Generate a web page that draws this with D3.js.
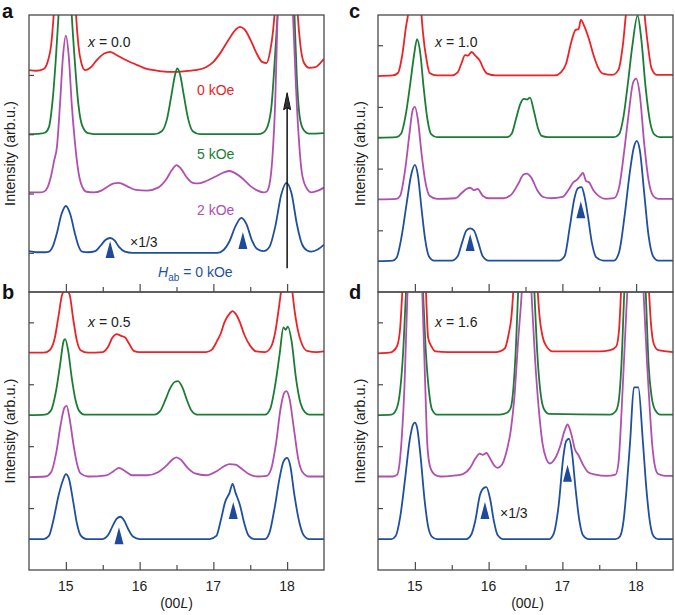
<!DOCTYPE html>
<html><head><meta charset="utf-8">
<script src="https://cdn.jsdelivr.net/npm/d3@7"></script>
<style>body{margin:0;background:#fff}svg{display:block}text{font-family:"Liberation Sans",Arial,Helvetica,sans-serif}</style>
</head><body><svg id="chart" width="675" height="615"></svg>
<script>
// ---------- data ----------
const xDomain = [14.5, 18.5];
const xMajorTicks = [15, 16, 17, 18];
const xMinorTicks = [15.5, 16.5, 17.5];
const xTickLabels = ["15", "16", "17", "18"];
const panelLabels = ["a", "b", "c", "d"];
const compositions = ["0.0", "0.5", "1.0", "1.6"];
const fieldLabels = ["0 kOe", "5 kOe", "2 kOe", "0 kOe"];
const seriesColors = ["#ec2227", "#1b7d35", "#b04fb0", "#1f4fa0"];
const yMaxA = 4.67, yMaxOther = 4.49;
const offsetsA = [3.66, 2.66, 1.66, 0.66];
const offsetsOther = [3.5, 2.5, 1.5, 0.5];
const yTicksA = [0.66, 1.66, 2.66, 3.66];
const yTicksOther = [1, 2, 3, 4];

const aRed = [[14.5,0.08],[14.6,0.07],[14.7,0.1],[14.76,0.25],[14.8,0.5],[14.84,1.1],[14.9,2.4],[14.95,3.5],[15,4],[15.05,3.5],[15.1,2.2],[15.13,1.2],[15.17,0.5],[15.21,0.2],[15.26,0.08],[15.33,0.12],[15.42,0.25],[15.52,0.36],[15.6,0.39],[15.68,0.34],[15.8,0.26],[15.9,0.2],[16,0.15],[16.1,0.1],[16.2,0.08],[16.3,0.06],[16.45,0.05],[16.6,0.06],[16.75,0.08],[16.9,0.13],[17,0.22],[17.1,0.38],[17.2,0.58],[17.3,0.76],[17.36,0.81],[17.42,0.77],[17.5,0.6],[17.58,0.38],[17.66,0.22],[17.72,0.2],[17.77,0.4],[17.81,0.75],[17.84,1.2],[17.9,2.4],[17.95,3.5],[18,4],[18.05,3.5],[18.1,2.3],[18.14,1.1],[18.18,0.5],[18.23,0.2],[18.3,0.12],[18.38,0.13],[18.45,0.2],[18.5,0.27]];
const aGreen = [[14.5,0],[14.65,0.01],[14.72,0.03],[14.77,0.12],[14.82,0.57],[14.86,1.2],[14.9,2],[14.96,3.2],[15,3.5],[15.04,3],[15.08,2],[15.12,1.25],[15.17,0.5],[15.22,0.15],[15.3,0.02],[15.45,0],[16.2,0],[16.3,0.05],[16.37,0.25],[16.43,0.65],[16.48,1],[16.51,1.11],[16.55,1],[16.6,0.65],[16.66,0.25],[16.72,0.05],[16.82,0],[17.6,0],[17.68,0.03],[17.74,0.15],[17.79,0.5],[17.83,1.2],[17.87,2],[17.93,3.5],[18,4],[18.05,3.5],[18.1,2],[18.13,1],[18.17,0.3],[18.22,0.08],[18.3,0.01],[18.5,0.02]];
const aMagenta = [[14.5,0.02],[14.65,0.02],[14.7,0.03],[14.75,0.1],[14.8,0.3],[14.84,0.55],[14.88,0.8],[14.92,1.5],[14.96,2.3],[15,2.66],[15.04,2.3],[15.08,1.5],[15.12,0.9],[15.16,0.45],[15.21,0.15],[15.28,0.03],[15.38,0.02],[15.48,0.05],[15.57,0.12],[15.65,0.17],[15.72,0.18],[15.82,0.13],[15.95,0.06],[16.1,0.05],[16.25,0.1],[16.35,0.22],[16.44,0.4],[16.5,0.48],[16.56,0.42],[16.64,0.27],[16.72,0.18],[16.8,0.17],[16.92,0.22],[17.05,0.3],[17.15,0.36],[17.22,0.38],[17.3,0.34],[17.4,0.25],[17.5,0.13],[17.6,0.05],[17.68,0.02],[17.72,0.03],[17.76,0.15],[17.8,0.6],[17.84,1.6],[17.87,3],[17.93,4.5],[18,5],[18.04,4.5],[18.08,3],[18.12,1.8],[18.16,0.9],[18.2,0.35],[18.26,0.1],[18.33,0.02],[18.42,0.05],[18.5,0.1]];
const aBlue = [[14.5,0.03],[14.6,0.01],[14.72,0.01],[14.77,0.02],[14.83,0.13],[14.88,0.34],[14.94,0.65],[15,0.79],[15.06,0.65],[15.12,0.34],[15.17,0.12],[15.22,0.02],[15.3,0.01],[15.4,0.03],[15.47,0.12],[15.54,0.22],[15.6,0.25],[15.66,0.21],[15.72,0.1],[15.8,0.02],[15.9,0],[17.05,0],[17.13,0.04],[17.22,0.2],[17.3,0.45],[17.38,0.59],[17.45,0.48],[17.52,0.22],[17.6,0.06],[17.68,0.03],[17.76,0.1],[17.84,0.45],[17.92,0.98],[17.99,1.18],[18.06,1],[18.13,0.5],[18.2,0.15],[18.27,0.04],[18.33,0.02],[18.42,0.06],[18.5,0.14]];

const bRed = [[14.5,0.01],[14.7,0.01],[14.78,0.05],[14.85,0.25],[14.9,0.6],[14.95,0.95],[15,1.03],[15.05,0.95],[15.1,0.55],[15.15,0.2],[15.2,0.05],[15.3,0.01],[15.5,0.02],[15.57,0.1],[15.63,0.25],[15.69,0.31],[15.75,0.28],[15.8,0.26],[15.86,0.15],[15.92,0.04],[16,0.02],[16.9,0.02],[16.98,0.06],[17.05,0.2],[17.1,0.32],[17.15,0.5],[17.22,0.64],[17.26,0.68],[17.3,0.64],[17.36,0.5],[17.42,0.3],[17.5,0.12],[17.58,0.03],[17.7,0.02],[17.78,0.1],[17.84,0.35],[17.89,0.75],[17.93,1.1],[18,1.4],[18.06,1.1],[18.1,0.7],[18.15,0.35],[18.2,0.15],[18.27,0.04],[18.4,0.02],[18.5,0.03]];
const bGreen = [[14.5,0],[14.72,0.01],[14.8,0.08],[14.86,0.35],[14.92,0.8],[14.97,1.2],[14.99,1.23],[15.03,1.05],[15.08,0.6],[15.13,0.25],[15.18,0.07],[15.25,0.01],[16.2,0.01],[16.28,0.07],[16.35,0.25],[16.42,0.45],[16.48,0.54],[16.52,0.55],[16.58,0.45],[16.64,0.25],[16.7,0.08],[16.78,0.01],[17.7,0.01],[17.77,0.1],[17.84,0.5],[17.9,1],[17.95,1.42],[17.98,1.38],[18.01,1.43],[18.06,1.2],[18.12,0.6],[18.18,0.2],[18.24,0.05],[18.3,0.01],[18.5,0.01]];
const bMagenta = [[14.5,0],[14.72,0.01],[14.8,0.08],[14.87,0.4],[14.93,0.85],[14.98,1.12],[15.01,1.15],[15.05,0.95],[15.1,0.55],[15.15,0.22],[15.2,0.06],[15.3,0.01],[15.55,0.03],[15.65,0.1],[15.72,0.15],[15.8,0.1],[15.9,0.03],[16.1,0.03],[16.25,0.08],[16.35,0.17],[16.45,0.29],[16.5,0.32],[16.56,0.28],[16.65,0.15],[16.75,0.06],[16.9,0.03],[17.05,0.1],[17.15,0.18],[17.22,0.21],[17.3,0.2],[17.38,0.14],[17.48,0.05],[17.6,0.01],[17.72,0.02],[17.78,0.12],[17.85,0.55],[17.91,1.1],[17.96,1.36],[17.99,1.39],[18.03,1.28],[18.09,0.8],[18.15,0.3],[18.21,0.08],[18.3,0.01],[18.5,0.01]];
const bBlue = [[14.5,0],[14.7,0],[14.77,0.05],[14.83,0.3],[14.9,0.7],[14.96,0.95],[15,1.05],[15.04,0.98],[15.1,0.6],[15.15,0.25],[15.2,0.06],[15.28,0],[15.5,0],[15.57,0.06],[15.63,0.2],[15.69,0.33],[15.74,0.36],[15.79,0.3],[15.85,0.15],[15.91,0.04],[16,0],[16.95,0],[17.04,0.05],[17.1,0.3],[17.16,0.6],[17.22,0.75],[17.26,0.89],[17.3,0.75],[17.36,0.55],[17.42,0.25],[17.48,0.05],[17.55,0],[17.7,0],[17.76,0.1],[17.83,0.5],[17.9,1],[17.95,1.25],[18,1.31],[18.04,1.2],[18.1,0.7],[18.16,0.3],[18.22,0.07],[18.3,0],[18.5,0]];

const cRed = [[14.5,0],[14.7,0.01],[14.77,0.05],[14.83,0.35],[14.88,0.8],[14.92,1.1],[14.97,1.8],[15.02,2],[15.07,1.3],[15.11,0.7],[15.16,0.25],[15.2,0.05],[15.3,0.01],[15.5,0.01],[15.58,0.06],[15.63,0.2],[15.68,0.34],[15.72,0.33],[15.77,0.39],[15.82,0.33],[15.88,0.25],[15.93,0.12],[15.98,0.04],[16.1,0.01],[16.9,0.01],[16.98,0.06],[17.05,0.2],[17.12,0.55],[17.18,0.75],[17.22,0.76],[17.25,0.91],[17.3,0.8],[17.36,0.6],[17.42,0.35],[17.48,0.15],[17.55,0.04],[17.68,0.02],[17.76,0.1],[17.82,0.5],[17.87,1.1],[17.93,1.6],[18,2],[18.07,1.6],[18.11,1.05],[18.16,0.5],[18.21,0.12],[18.28,0.02],[18.5,0.02]];
const cGreen = [[14.5,0],[14.75,0.01],[14.81,0.06],[14.88,0.4],[14.94,0.9],[14.99,1.35],[15.03,1.6],[15.07,1.4],[15.12,0.8],[15.17,0.3],[15.22,0.06],[15.3,0.01],[16.25,0.01],[16.31,0.06],[16.37,0.3],[16.43,0.55],[16.48,0.63],[16.52,0.62],[16.56,0.65],[16.62,0.4],[16.67,0.15],[16.72,0.03],[16.8,0.01],[17.7,0.01],[17.77,0.06],[17.83,0.35],[17.89,0.9],[17.95,1.5],[18.02,1.98],[18.07,1.6],[18.13,0.8],[18.19,0.25],[18.25,0.05],[18.32,0.01],[18.5,0.01]];
const cMagenta = [[14.5,0],[14.75,0.01],[14.8,0.06],[14.87,0.5],[14.93,1.1],[14.97,1.45],[15,1.5],[15.04,1.3],[15.09,0.75],[15.14,0.3],[15.2,0.06],[15.3,0.01],[15.55,0.02],[15.63,0.1],[15.7,0.17],[15.75,0.19],[15.8,0.15],[15.85,0.17],[15.92,0.06],[16,0.02],[16.2,0.02],[16.3,0.07],[16.4,0.25],[16.47,0.4],[16.52,0.42],[16.58,0.35],[16.66,0.15],[16.74,0.04],[16.85,0.02],[17,0.04],[17.08,0.15],[17.15,0.28],[17.2,0.32],[17.24,0.38],[17.28,0.43],[17.32,0.3],[17.36,0.28],[17.42,0.15],[17.5,0.05],[17.58,0.01],[17.7,0.02],[17.77,0.2],[17.84,0.8],[17.9,1.4],[17.96,1.9],[18,1.96],[18.05,1.7],[18.11,0.9],[18.17,0.3],[18.23,0.06],[18.3,0.01],[18.5,0.01]];
const cBlue = [[14.5,0],[14.7,0.01],[14.75,0.05],[14.82,0.4],[14.89,0.95],[14.95,1.4],[15,1.56],[15.04,1.4],[15.09,0.85],[15.14,0.35],[15.19,0.08],[15.26,0.01],[15.5,0.01],[15.58,0.08],[15.64,0.3],[15.7,0.5],[15.75,0.53],[15.8,0.5],[15.86,0.3],[15.92,0.08],[16,0.01],[16.95,0.01],[17.03,0.08],[17.1,0.55],[17.16,1],[17.21,1.18],[17.26,1.2],[17.3,1.05],[17.35,0.7],[17.4,0.3],[17.46,0.06],[17.55,0.01],[17.7,0.01],[17.77,0.15],[17.84,0.7],[17.91,1.4],[17.97,1.85],[18.01,1.95],[18.05,1.8],[18.11,1.1],[18.17,0.4],[18.23,0.08],[18.3,0.01],[18.5,0.01]];

const dRed = [[14.5,0],[14.65,0.01],[14.7,0.03],[14.76,0.12],[14.8,0.4],[14.83,1],[14.9,2.5],[15,4],[15.1,2.5],[15.15,1],[15.18,0.25],[15.23,0.1],[15.28,0.03],[15.45,0.02],[16.1,0.02],[16.15,0.03],[16.22,0.08],[16.27,0.3],[16.31,0.6],[16.34,1.1],[16.42,2.5],[16.5,4],[16.58,2.5],[16.66,1.1],[16.69,0.6],[16.73,0.28],[16.78,0.12],[16.87,0.03],[17,0.03],[17.2,0.03],[17.5,0.03],[17.65,0.05],[17.73,0.11],[17.77,0.4],[17.8,1.1],[17.88,2.5],[18,4],[18.1,2.5],[18.17,1.1],[18.2,0.5],[18.24,0.15],[18.3,0.05],[18.5,0.02]];
const dGreen = [[14.5,0],[14.68,0.01],[14.75,0.1],[14.8,0.4],[14.84,1],[14.88,2],[14.95,3.5],[15,4],[15.05,3.5],[15.11,2],[15.15,1],[15.19,0.4],[15.23,0.1],[15.3,0.01],[16.15,0.01],[16.25,0.04],[16.3,0.12],[16.34,0.5],[16.37,1.1],[16.4,2],[16.45,3.5],[16.5,4],[16.56,3.5],[16.62,2],[16.66,1],[16.7,0.4],[16.75,0.1],[16.82,0.02],[17.65,0.01],[17.72,0.06],[17.76,0.2],[17.8,0.8],[17.84,2],[17.92,3.5],[18,4],[18.07,3.5],[18.13,2],[18.17,0.8],[18.21,0.3],[18.26,0.08],[18.33,0.01],[18.5,0.01]];
const dMagenta = [[14.5,0.01],[14.7,0.01],[14.76,0.04],[14.79,0.2],[14.82,0.6],[14.86,1.5],[14.9,3],[15,5],[15.1,3],[15.14,1.5],[15.17,0.5],[15.21,0.15],[15.27,0.04],[15.35,0.01],[15.5,0.02],[15.65,0.05],[15.75,0.15],[15.82,0.3],[15.88,0.38],[15.92,0.36],[15.97,0.39],[16.02,0.3],[16.08,0.18],[16.12,0.15],[16.18,0.2],[16.25,0.45],[16.3,0.75],[16.35,1.3],[16.4,2.2],[16.45,3],[16.51,4.5],[16.58,3],[16.63,1.9],[16.68,1.1],[16.73,0.55],[16.78,0.3],[16.83,0.22],[16.9,0.3],[16.97,0.5],[17.03,0.75],[17.07,0.85],[17.12,0.7],[17.17,0.45],[17.22,0.35],[17.28,0.2],[17.35,0.08],[17.45,0.04],[17.6,0.02],[17.72,0.04],[17.76,0.22],[17.8,1],[17.84,2],[17.88,3],[18,5],[18.1,3],[18.15,1.8],[18.19,1],[18.22,0.5],[18.26,0.15],[18.3,0.05],[18.4,0.02],[18.5,0.02]];
const dBlue = [[14.5,0],[14.68,0],[14.74,0.05],[14.8,0.35],[14.87,1],[14.93,1.6],[14.98,1.86],[15,1.88],[15.03,1.8],[15.08,1.3],[15.13,0.65],[15.18,0.2],[15.23,0.04],[15.3,0],[15.7,0],[15.76,0.06],[15.82,0.3],[15.88,0.7],[15.93,0.82],[15.97,0.84],[16.02,0.65],[16.07,0.3],[16.12,0.07],[16.2,0],[16.82,0],[16.88,0.08],[16.95,0.55],[17.01,1.3],[17.05,1.58],[17.09,1.62],[17.13,1.4],[17.18,0.8],[17.23,0.3],[17.28,0.06],[17.35,0],[17.72,0],[17.78,0.04],[17.83,0.3],[17.87,0.8],[17.92,1.6],[17.97,2.45],[18.03,2.45],[18.09,1.6],[18.14,0.8],[18.19,0.25],[18.24,0.04],[18.3,0],[18.5,0]];

// triangle markers: [L, apex height above blue baseline]
const aMarkers = [[15.6, 0.2], [17.4, 0.35]];
const bMarkers = [[15.72, 0.19], [17.27, 0.6]];
const cMarkers = [[15.75, 0.44], [17.25, 0.97]];
const dMarkers = [[15.95, 0.6], [17.07, 1.2]];
// arrow in panel a: [L, from, to] in panel-a y units
const arrowA = [18, 0.4, 3.36];

// ---------- layout ----------
const panels = [
  {x0:29, x1:324, y0:15, y1:292, ymax:yMaxA, offsets:offsetsA, yticks:yTicksA, curves:[aRed,aGreen,aMagenta,aBlue], markers:aMarkers, bottom:false, right:false},
  {x0:29, x1:324, y0:292, y1:570, ymax:yMaxOther, offsets:offsetsOther, yticks:yTicksOther, curves:[bRed,bGreen,bMagenta,bBlue], markers:bMarkers, bottom:true, right:false},
  {x0:378, x1:673, y0:15, y1:292, ymax:yMaxOther, offsets:offsetsOther, yticks:yTicksOther, curves:[cRed,cGreen,cMagenta,cBlue], markers:cMarkers, bottom:false, right:true},
  {x0:378, x1:673, y0:292, y1:570, ymax:yMaxOther, offsets:offsetsOther, yticks:yTicksOther, curves:[dRed,dGreen,dMagenta,dBlue], markers:dMarkers, bottom:true, right:true}
];
const frameColor = "#4a4a4a";
const svg = d3.select("#chart");
const defs = svg.append("defs");

panels.forEach((p, i) => {
  const x = d3.scaleLinear().domain(xDomain).range([p.x0, p.x1]);
  const y = d3.scaleLinear().domain([0, p.ymax]).range([p.y1, p.y0]);
  const g = svg.append("g");
  defs.append("clipPath").attr("id", "clip" + i)
    .append("rect").attr("x", p.x0).attr("y", p.y0).attr("width", p.x1 - p.x0).attr("height", p.y1 - p.y0);

  const cg = g.append("g").attr("clip-path", `url(#clip${i})`);
  p.curves.forEach((c, k) => {
    const off = p.offsets[k];
    const line = d3.line().x(d => x(d[0])).y(d => y(off + d[1])).curve(d3.curveMonotoneX);
    cg.append("path").datum(c).attr("d", line).attr("fill", "none")
      .attr("stroke", seriesColors[k]).attr("stroke-width", 1.8).attr("stroke-linejoin", "round");
  });
  // markers
  const blueOff = p.offsets[3];
  cg.selectAll("path.mk").data(p.markers).enter().append("path").attr("class", "mk")
    .attr("d", d => {
      const px = x(d[0]), py = y(blueOff + d[1]);
      return `M${px},${py} L${px + 4.5},${py + 17} L${px - 4.5},${py + 17} Z`;
    })
    .attr("fill", "#1d4a9a");

  // frame
  g.append("rect").attr("x", p.x0).attr("y", p.y0).attr("width", p.x1 - p.x0).attr("height", p.y1 - p.y0)
    .attr("fill", "none").attr("stroke", frameColor).attr("stroke-width", 1.3);

  // y ticks (inward)
  const yAxis = d3.axisLeft(y).tickValues(p.yticks).tickSizeInner(-5).tickSizeOuter(0).tickFormat("");
  const ya = g.append("g").attr("transform", `translate(${p.x0},0)`).call(yAxis);
  ya.select(".domain").remove();
  ya.selectAll("line").attr("stroke", frameColor).attr("stroke-width", 1.2);

  // x ticks on bottom edge (inward)
  const xMaj = d3.axisBottom(x).tickValues(xMajorTicks).tickSizeInner(-8).tickSizeOuter(0).tickFormat("");
  const xMin = d3.axisBottom(x).tickValues(xMinorTicks).tickSizeInner(-5).tickSizeOuter(0).tickFormat("");
  [xMaj, xMin].forEach(ax => {
    const xa = g.append("g").attr("transform", `translate(0,${p.y1})`).call(ax);
    xa.select(".domain").remove();
    xa.selectAll("line").attr("stroke", frameColor).attr("stroke-width", 1.2);
  });
  if (p.bottom) {
    g.selectAll("text.xt").data(xMajorTicks).enter().append("text").attr("class", "xt")
      .attr("x", d => x(d)).attr("y", 591).attr("text-anchor", "middle")
      .attr("font-size", 14).attr("fill", "#222").text((d, j) => xTickLabels[j]);
    const xl = g.append("text").attr("x", (p.x0 + p.x1) / 2 + (p.right ? 2 : 0)).attr("y", 608)
      .attr("text-anchor", "middle").attr("font-size", 14).attr("fill", "#222");
    xl.append("tspan").text("(00");
    xl.append("tspan").attr("font-style", "italic").text("L");
    xl.append("tspan").text(")");
  }

  // y label
  const ylx = p.right ? 365 : 15;
  g.append("text").attr("transform", `translate(${ylx},${(p.y0 + p.y1) / 2}) rotate(-90)`)
    .attr("text-anchor", "middle").attr("font-size", 14.5).attr("fill", "#222").text("Intensity (arb.u.)");

  // panel letter
  g.append("text").attr("x", p.right ? 349 : 2).attr("y", p.y0 + (p.bottom ? 7 : 3)).attr("font-size", 20)
    .attr("font-weight", "bold").attr("fill", "#111").text(panelLabels[i]);

  // composition
  const ct = g.append("text").attr("x", p.x0 + (p.right ? 57 : 59)).attr("y", p.y0 + (p.bottom ? 35 : 32))
    .attr("font-size", 14).attr("fill", "#222");
  ct.append("tspan").attr("font-style", "italic").text("x");
  ct.append("tspan").text(" = " + compositions[i]);

  if (i === 0) {
    // field labels
    const fl = [[197, 95], [197, 159], [197, 215]];
    fl.forEach((q, k) => {
      g.append("text").attr("x", q[0]).attr("y", q[1]).attr("font-size", 14).attr("fill", seriesColors[k]).text(fieldLabels[k]);
    });
    const h = g.append("text").attr("x", 158).attr("y", 277).attr("font-size", 14).attr("fill", seriesColors[3]);
    h.append("tspan").attr("font-style", "italic").text("H");
    h.append("tspan").attr("font-size", 10).attr("dy", 4).text("ab");
    h.append("tspan").attr("dy", -4).text(" = " + fieldLabels[3]);
    g.append("text").attr("x", 130).attr("y", 247).attr("font-size", 14).attr("fill", "#222").text("\u00d71/3");
    // arrow
    const ax = x(arrowA[0]), ay0 = y(arrowA[1]), ay1 = y(arrowA[2]);
    g.append("line").attr("x1", ax).attr("x2", ax).attr("y1", ay0).attr("y2", ay1 + 14)
      .attr("stroke", "#111").attr("stroke-width", 1.5);
    g.append("path").attr("d", `M${ax},${ay1} L${ax + 3.5},${ay1 + 17} L${ax},${ay1 + 15} L${ax - 3.5},${ay1 + 17} Z`)
      .attr("fill", "#333").attr("stroke", "#111").attr("stroke-width", 1);
  }
  if (i === 3) {
    g.append("text").attr("x", 500).attr("y", 518).attr("font-size", 14).attr("fill", "#222").text("\u00d71/3");
  }
});
</script>
</body></html>
